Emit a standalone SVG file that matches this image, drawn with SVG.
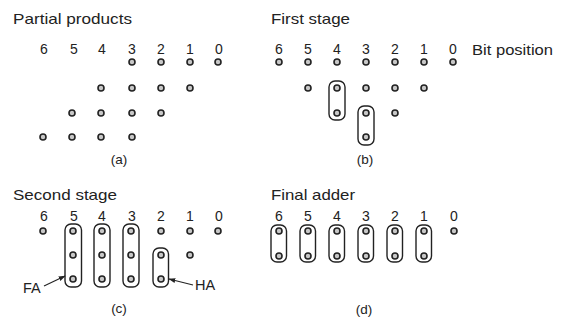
<svg xmlns="http://www.w3.org/2000/svg" width="563" height="322" viewBox="0 0 563 322">
  <defs>
    <style>
      text { font-family: "Liberation Sans", Arial, sans-serif; fill: #222; }
      .title { font-size: 14.5px; }
      .num { font-size: 14px; text-anchor: middle; }
      .cap { font-size: 13.5px; text-anchor: middle; }
      .lbl { font-size: 14.5px; }
      .dot { fill: #c8c8c8; stroke: #222; stroke-width: 1.6; }
      .box { fill: none; stroke: #222; stroke-width: 1.4; }
      .lead { stroke: #222; stroke-width: 1.1; fill: none; }
    </style>
    <marker id="arrow" viewBox="0 0 10 10" refX="9" refY="5" markerWidth="7" markerHeight="7" orient="auto-start-reverse" markerUnits="userSpaceOnUse">
      <path d="M0,1.5 L10,5 L0,8.5 Z" fill="#222"/>
    </marker>
  </defs>
  <rect width="563" height="322" fill="#fff"/>

  <!-- (a) partial products -->
  <g id="panel-a">
    <text class="title" x="13" y="24" textLength="119" lengthAdjust="spacingAndGlyphs">Partial products</text>
    <g class="num">
      <text x="44" y="54">6</text><text x="74" y="54">5</text><text x="102" y="54">4</text>
      <text x="132" y="54">3</text><text x="161" y="54">2</text><text x="190" y="54">1</text>
      <text x="219" y="54">0</text>
    </g>
    <g class="dots">
      <circle class="dot" cx="132" cy="62" r="3"/><circle class="dot" cx="161" cy="62" r="3"/>
      <circle class="dot" cx="190" cy="62" r="3"/><circle class="dot" cx="218" cy="62" r="3"/>
      <circle class="dot" cx="101" cy="88" r="3"/><circle class="dot" cx="132" cy="88" r="3"/>
      <circle class="dot" cx="161" cy="88" r="3"/><circle class="dot" cx="190" cy="88" r="3"/>
      <circle class="dot" cx="72" cy="113" r="3"/><circle class="dot" cx="101" cy="113" r="3"/>
      <circle class="dot" cx="132" cy="113" r="3"/><circle class="dot" cx="161" cy="113" r="3"/>
      <circle class="dot" cx="43" cy="137" r="3"/><circle class="dot" cx="72" cy="137" r="3"/>
      <circle class="dot" cx="101" cy="137" r="3"/><circle class="dot" cx="132" cy="137" r="3"/>
    </g>
    <text class="cap" x="119" y="164">(a)</text>
  </g>

  <!-- (b) first stage -->
  <g id="panel-b">
    <text class="title" x="271" y="24" textLength="79" lengthAdjust="spacingAndGlyphs">First stage</text>
    <g class="num">
      <text x="279" y="54">6</text><text x="308" y="54">5</text><text x="337" y="54">4</text>
      <text x="366" y="54">3</text><text x="395" y="54">2</text><text x="424" y="54">1</text>
      <text x="453" y="54">0</text>
    </g>
    <text class="lbl" x="472" y="55" textLength="81" lengthAdjust="spacingAndGlyphs">Bit position</text>
    <g class="dots">
      <circle class="dot" cx="279" cy="62" r="3"/><circle class="dot" cx="308" cy="62" r="3"/>
      <circle class="dot" cx="337" cy="62" r="3"/><circle class="dot" cx="366" cy="62" r="3"/>
      <circle class="dot" cx="395" cy="62" r="3"/><circle class="dot" cx="424" cy="62" r="3"/>
      <circle class="dot" cx="453" cy="62" r="3"/>
      <circle class="dot" cx="308" cy="88" r="3"/><circle class="dot" cx="337" cy="88" r="3"/>
      <circle class="dot" cx="366" cy="88" r="3"/><circle class="dot" cx="395" cy="88" r="3"/>
      <circle class="dot" cx="424" cy="88" r="3"/>
      <circle class="dot" cx="337" cy="113" r="3"/><circle class="dot" cx="366" cy="113" r="3"/>
      <circle class="dot" cx="395" cy="113" r="3"/>
      <circle class="dot" cx="366" cy="137" r="3"/>
    </g>
    <rect class="box" x="329" y="81" width="16" height="39" rx="6"/>
    <rect class="box" x="358" y="106" width="16" height="39" rx="6"/>
    <text class="cap" x="365" y="164">(b)</text>
  </g>

  <!-- (c) second stage -->
  <g id="panel-c">
    <text class="title" x="13" y="200" textLength="104" lengthAdjust="spacingAndGlyphs">Second stage</text>
    <g class="num">
      <text x="44" y="221">6</text><text x="74" y="221">5</text><text x="102" y="221">4</text>
      <text x="132" y="221">3</text><text x="161" y="221">2</text><text x="190" y="221">1</text>
      <text x="219" y="221">0</text>
    </g>
    <g class="dots">
      <circle class="dot" cx="43" cy="231" r="3"/><circle class="dot" cx="73" cy="231" r="3"/>
      <circle class="dot" cx="102" cy="231" r="3"/><circle class="dot" cx="131" cy="231" r="3"/>
      <circle class="dot" cx="161" cy="231" r="3"/><circle class="dot" cx="190" cy="231" r="3"/>
      <circle class="dot" cx="218" cy="231" r="3"/>
      <circle class="dot" cx="73" cy="255" r="3"/><circle class="dot" cx="102" cy="255" r="3"/>
      <circle class="dot" cx="131" cy="255" r="3"/><circle class="dot" cx="161" cy="255" r="3"/>
      <circle class="dot" cx="190" cy="255" r="3"/>
      <circle class="dot" cx="73" cy="279" r="3"/><circle class="dot" cx="102" cy="279" r="3"/>
      <circle class="dot" cx="131" cy="279" r="3"/><circle class="dot" cx="161" cy="279" r="3"/>
    </g>
    <rect class="box" x="65" y="224" width="16.5" height="63" rx="6"/>
    <rect class="box" x="94" y="224" width="16" height="63" rx="6"/>
    <rect class="box" x="123" y="224" width="16" height="63" rx="6"/>
    <rect class="box" x="153" y="248" width="15.5" height="39" rx="6"/>
    <g class="connectors">
      <line class="lead" x1="44" y1="286" x2="65" y2="276" marker-end="url(#arrow)"/>
      <line class="lead" x1="193" y1="285" x2="169" y2="279" marker-end="url(#arrow)"/>
    </g>
    <text class="lbl" x="23" y="293">FA</text>
    <text class="lbl" x="195" y="290">HA</text>
    <text class="cap" x="119" y="313">(c)</text>
  </g>

  <!-- (d) final adder -->
  <g id="panel-d">
    <text class="title" x="271" y="200" textLength="84" lengthAdjust="spacingAndGlyphs">Final adder</text>
    <g class="num">
      <text x="279" y="221">6</text><text x="308" y="221">5</text><text x="337" y="221">4</text>
      <text x="366" y="221">3</text><text x="395" y="221">2</text><text x="424" y="221">1</text>
      <text x="454" y="221">0</text>
    </g>
    <g class="dots">
      <circle class="dot" cx="279" cy="231" r="3"/><circle class="dot" cx="308" cy="231" r="3"/>
      <circle class="dot" cx="337" cy="231" r="3"/><circle class="dot" cx="366" cy="231" r="3"/>
      <circle class="dot" cx="395" cy="231" r="3"/><circle class="dot" cx="424" cy="231" r="3"/>
      <circle class="dot" cx="454" cy="231" r="3"/>
      <circle class="dot" cx="279" cy="256" r="3"/><circle class="dot" cx="308" cy="256" r="3"/>
      <circle class="dot" cx="337" cy="256" r="3"/><circle class="dot" cx="366" cy="256" r="3"/>
      <circle class="dot" cx="395" cy="256" r="3"/><circle class="dot" cx="424" cy="256" r="3"/>
    </g>
    <rect class="box" x="271" y="225" width="15.5" height="37" rx="6"/>
    <rect class="box" x="300" y="225" width="15.5" height="37" rx="6"/>
    <rect class="box" x="329" y="225" width="15.5" height="37" rx="6"/>
    <rect class="box" x="358" y="225" width="15.5" height="37" rx="6"/>
    <rect class="box" x="387" y="225" width="15.5" height="37" rx="6"/>
    <rect class="box" x="416" y="225" width="15.5" height="37" rx="6"/>
    <text class="cap" x="364" y="314">(d)</text>
  </g>
</svg>
